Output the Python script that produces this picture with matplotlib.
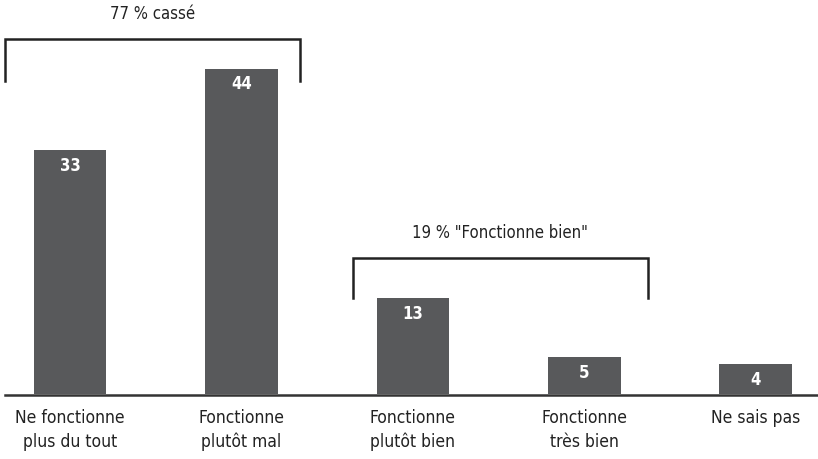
import numpy as np
import matplotlib.pyplot as plt

categories = ["Ne fonctionne\nplus du tout", "Fonctionne\nplutôt mal", "Fonctionne\nplutôt bien",
              "Fonctionne\ntrès bien", "Ne sais pas"]
values = [33, 44, 13, 5, 4]
# label, first bar, last bar, left/right overhang, top, bottom of bracket
groups = [("77 % cassé", 0, 1, 0.38, 0.34, 48.0, 42.4),
          ('19 % "Fonctionne bien"', 2, 3, 0.35, 0.37, 18.4, 13.0)]

plt.rcParams['font.family'] = ['DejaVu Sans']
plt.rcParams['font.stretch'] = 'condensed'

fig = plt.figure(figsize=(8.18, 4.59), dpi=100)
ax = fig.add_axes([0, 0, 1, 1])
x = np.arange(len(values))
bars = ax.bar(x, values, width=0.425, color='#58595b')
ax.set_xlim(-0.408, 4.362)
ax.set_ylim(-8.8, 53.3)
ax.axis('off')
ax.axhline(-0.2, xmin=0.006, xmax=1, color='#333333', lw=1.8)

for xi, v in zip(x, values):
    ax.text(xi, v - 0.9, str(v), color='white', fontsize=12, fontweight='bold',
            ha='center', va='top')
    ax.text(xi, -2.0, categories[xi], fontsize=12.5, ha='center', va='top',
            color='#222222', linespacing=1.42)

for label, a, b, lo, ro, top, bot in groups:
    x0, x1 = a - lo, b + ro
    ax.plot([x0, x0, x1, x1], [bot, top, top, bot], color='#222222', lw=1.8,
            solid_joinstyle='miter')
    ax.text((x0 + x1) / 2, top + 2.2, label, fontsize=12, ha='center', va='bottom',
            color='#222222')

plt.savefig('out.png', dpi=100)
